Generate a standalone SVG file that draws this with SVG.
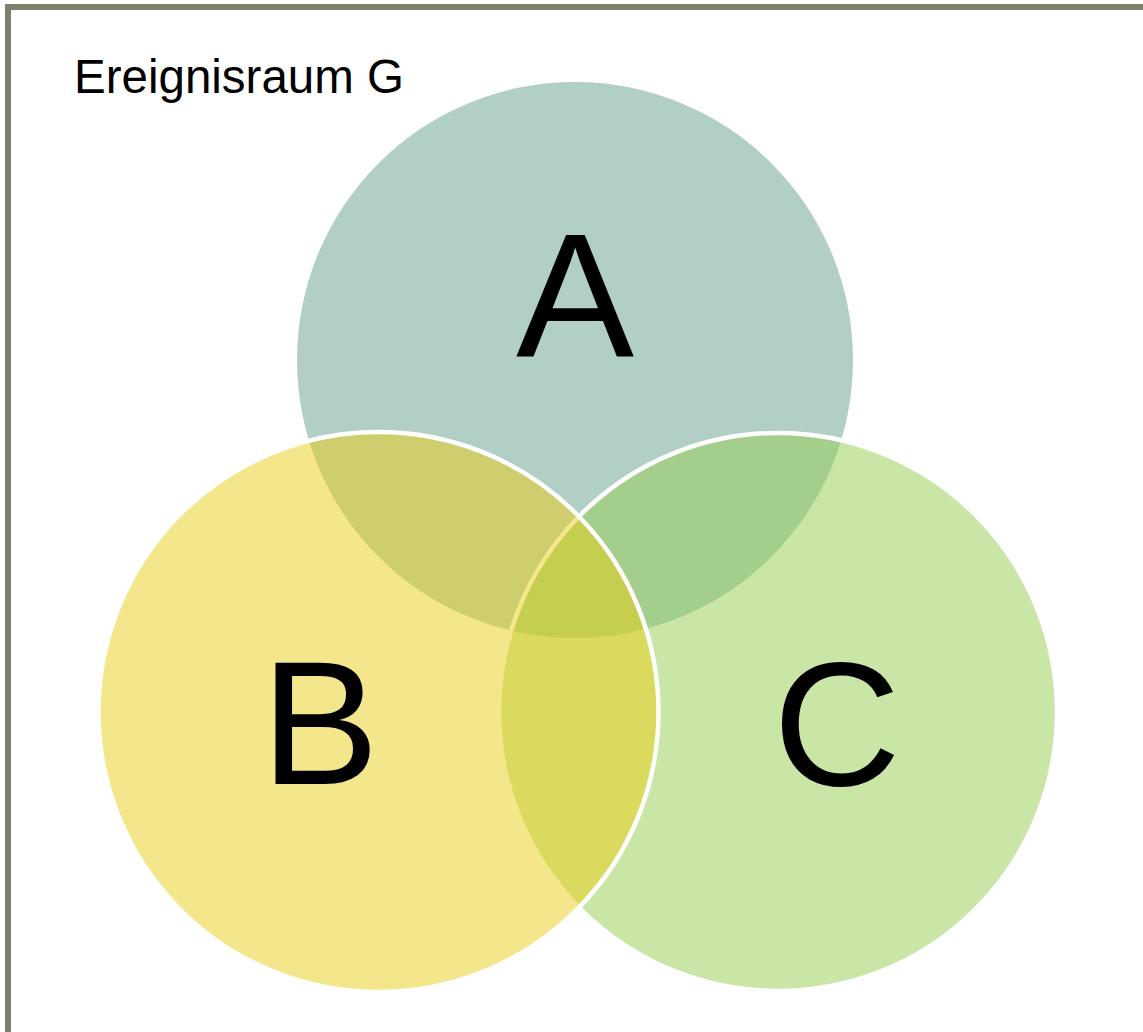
<svg xmlns="http://www.w3.org/2000/svg" width="1143" height="1032" viewBox="0 0 1143 1032">
<style>
.set{fill-opacity:0.5}
.lbl{font-family:"Liberation Sans",Arial,sans-serif;fill:#000}
.big{font-size:177px;text-anchor:middle}
</style>
<rect width="1143" height="1032" fill="#fff"/>
<rect id="frame" x="8" y="7" width="1160" height="1060" fill="none" stroke="#7f7f6d" stroke-width="6"/>
<text class="lbl" x="74" y="93" font-size="47.5">Ereignisraum G</text>
<g id="setA">
<circle class="set" cx="575" cy="360" r="278" fill="#659f8d"/>
<text class="lbl big" x="575" y="357">A</text>
</g>
<g id="setC">
<circle class="set" cx="778" cy="712" r="279" fill="#93cd4f" stroke="#fff" stroke-width="4.5" stroke-opacity="1"/>
<text class="lbl big" x="837" y="785">C</text>
</g>
<g id="setB">
<circle class="set" cx="378.5" cy="712" r="280" fill="#e9cd15" stroke="#fff" stroke-width="4.5" stroke-opacity="1"/>
<text class="lbl big" x="320" y="784">B</text>
</g>
<g id="connectors"></g>
</svg>
